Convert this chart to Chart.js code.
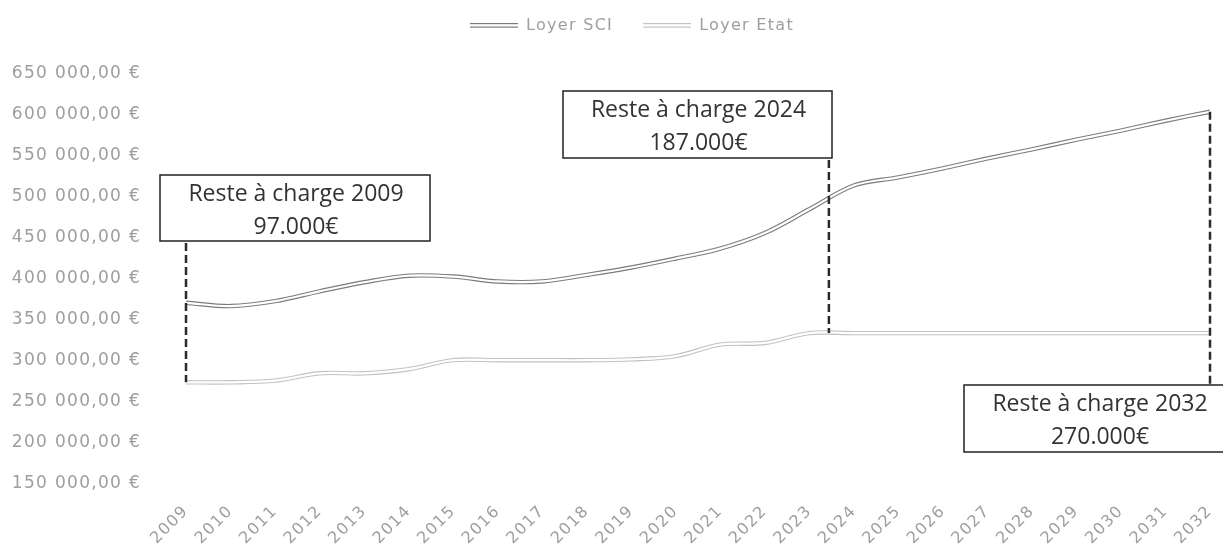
<!DOCTYPE html>
<html>
<head>
<meta charset="utf-8">
<script src="https://cdn.jsdelivr.net/npm/chart.js@4.4.0/dist/chart.umd.min.js"></script>
<style>
  html, body { margin: 0; padding: 0; background: #fff; }
  #wrap { width: 1223px; height: 551px; }
</style>
</head>
<body>
<div id="wrap"><canvas id="loyers"></canvas></div>
<script>
// Data
const years = ['2009', '2010', '2011', '2012', '2013', '2014', '2015', '2016', '2017', '2018', '2019', '2020',
               '2021', '2022', '2023', '2024', '2025', '2026', '2027', '2028', '2029', '2030', '2031', '2032'];
const loyerSCI = [371000, 367000, 373000, 385000, 396000, 404000, 403000, 397000, 397000, 405000, 414000, 425000,
                  437000, 456000, 485000, 514000, 524000, 535000, 547000, 558000, 570000, 581000, 593000, 604000];
const loyerEtat = [274000, 274000, 276000, 285000, 285000, 290000, 301000, 301000, 301000, 301000, 302000, 306000,
                   320000, 322000, 334000, 334000, 334000, 334000, 334000, 334000, 334000, 334000, 334000, 334000];
const seriesNames = ['Loyer SCI', 'Loyer Etat'];
const yTicks = [150000, 200000, 250000, 300000, 350000, 400000, 450000, 500000, 550000, 600000, 650000];
const notes = [
    { lines: ['Reste à charge 2009', '97.000€'], index: 0 },
    { lines: ['Reste à charge 2024', '187.000€'], index: 14.44 },
    { lines: ['Reste à charge 2032', '270.000€'], index: 23 }
];

const AXIS_FONT = "'DejaVu Sans', sans-serif";
const BOX_FONT = "'Open Sans', 'DejaVu Sans', sans-serif";
const sciColor = '#7c7c7c';
const etatColor = '#c2c2c2';
const textGrey = '#9e9e9e';

// little double line used as legend symbol (blank on the left for spacing)
function doubleLine(color) {
    const c = document.createElement('canvas');
    c.width = 68; c.height = 8;
    const g = c.getContext('2d');
    g.fillStyle = color;
    g.fillRect(20, 1, 48, 1.2);
    g.fillRect(20, 4.5, 48, 1.2);
    return c;
}

function fmtEuro(v) {
    const s = Math.round(v).toString().replace(/\B(?=(\d{3})+(?!\d))/g, ' ');
    return s + ',00 €';
}

// axis and legend text in the original is set a bit wide
const wideText = {
    id: 'wideText',
    beforeUpdate(chart) { chart.ctx.letterSpacing = '1.3px'; },
    beforeDraw(chart) { chart.ctx.letterSpacing = '1.3px'; }
};

// extra room under the legend, and nudge it a little to the right
const legendTweak = {
    id: 'legendTweak',
    beforeInit(chart) {
        const lg = chart.legend;
        const fit = lg.fit, draw = lg.draw;
        lg.fit = function () {
            fit.call(lg);
            this.height += 30;
        };
        lg.draw = function () {
            const ctx = chart.ctx;
            ctx.save();
            ctx.translate(17, 0);
            draw.call(lg);
            ctx.restore();
        };
    }
};

// boxes + dashed lines
const boxes = [
    { x: 160, y: 175, w: 270, h: 66, from: 'etat' },
    { x: 563, y: 91, w: 269, h: 67, from: 'etat' },
    { x: 964, y: 385, w: 270, h: 67, from: 'sci' }
];
const notesPlugin = {
    id: 'notes',
    afterDatasetsDraw(chart) {
        const ctx = chart.ctx;
        const xs = chart.scales.x, ys = chart.scales.y;
        notes.forEach((n, i) => {
            const b = boxes[i];
            const px = xs.getPixelForValue(n.index);
            const k = Math.round(n.index);
            ctx.save();
            ctx.strokeStyle = '#2b2b2b';
            ctx.lineWidth = 2.5;
            ctx.setLineDash([8, 4]);
            ctx.beginPath();
            if (b.from === 'etat') {
                ctx.moveTo(px, b.y + b.h + 2);
                ctx.lineTo(px, ys.getPixelForValue(loyerEtat[k]));
            } else {
                ctx.moveTo(px, ys.getPixelForValue(loyerSCI[k]));
                ctx.lineTo(px, b.y);
            }
            ctx.stroke();
            ctx.setLineDash([]);
            ctx.fillStyle = '#fff';
            ctx.fillRect(b.x, b.y, b.w, b.h);
            ctx.lineWidth = 1.5;
            ctx.strokeStyle = '#222';
            ctx.strokeRect(b.x, b.y, b.w, b.h);
            ctx.fillStyle = '#333';
            ctx.font = '23px ' + BOX_FONT;
            ctx.letterSpacing = '0px';
            ctx.textAlign = 'center';
            ctx.textBaseline = 'middle';
            const cx = b.x + b.w / 2 + 1;
            ctx.fillText(n.lines[0], cx, b.y + 19);
            ctx.fillText(n.lines[1], cx, b.y + 52);
            ctx.restore();
        });
    }
};

const lineBase = { pointRadius: 0, pointHoverRadius: 0, tension: 0.35, fill: false };

// white inner lines first so they are drawn on top of the grey ones
new Chart(document.getElementById('loyers'), {
    type: 'line',
    data: {
        labels: years,
        datasets: [
            { ...lineBase, label: '_inner', data: loyerSCI, borderColor: '#fff', borderWidth: 2.2 },
            { ...lineBase, label: '_inner', data: loyerEtat, borderColor: '#fff', borderWidth: 2.2 },
            { ...lineBase, label: seriesNames[0], data: loyerSCI, borderColor: sciColor, borderWidth: 4.4,
              pointStyle: doubleLine(sciColor) },
            { ...lineBase, label: seriesNames[1], data: loyerEtat, borderColor: etatColor, borderWidth: 4.4,
              pointStyle: doubleLine(etatColor) }
        ]
    },
    options: {
        responsive: true,
        maintainAspectRatio: false,
        animation: false,
        layout: { padding: { top: 8, right: 13, left: 0, bottom: 0 } },
        scales: {
            x: {
                grid: { display: false, drawTicks: false },
                border: { display: false },
                ticks: {
                    color: textGrey,
                    font: { family: AXIS_FONT, size: 16 },
                    minRotation: 45, maxRotation: 45,
                    padding: 18,
                    autoSkip: false
                },
                afterFit(axis) {
                    axis.height = 67;
                    axis.paddingLeft = 0;
                    axis.paddingRight = 0;
                }
            },
            y: {
                min: 150000, max: 650000,
                grid: { display: false, drawTicks: false },
                border: { display: false },
                afterBuildTicks(axis) { axis.ticks = yTicks.map(v => ({ value: v })); },
                ticks: {
                    color: textGrey,
                    font: { family: AXIS_FONT, size: 17 },
                    padding: 45,
                    callback: v => fmtEuro(v)
                },
                afterFit(axis) { axis.width = 186; }
            }
        },
        plugins: {
            legend: {
                position: 'top',
                labels: {
                    color: textGrey,
                    font: { family: AXIS_FONT, size: 16 },
                    usePointStyle: true,
                    pointStyleWidth: 68,
                    padding: 10,
                    filter: item => item.text !== '_inner'
                }
            },
            tooltip: { enabled: false }
        }
    },
    plugins: [wideText, legendTweak, notesPlugin]
});
</script>
</body>
</html>
